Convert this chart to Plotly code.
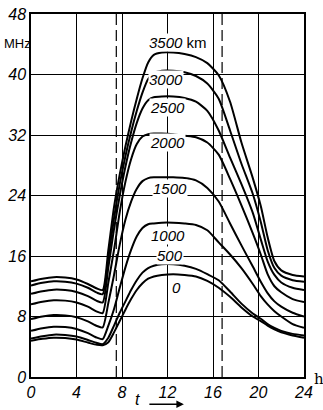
import plotly.graph_objects as go

# time of day, h
HOURS = [0, 1, 2, 3, 4, 5, 5.8, 6.3, 6.8, 7.3, 7.8, 8.3, 8.8, 9.3, 9.8, 10.3, 10.8,
         11.5, 12.5, 13.5, 14.5, 15.5, 16.5, 17.5, 18.5, 19.5, 20.2, 20.8, 21.4, 22, 23, 24]

# frequency in MHz for each distance
MUF_3500 = [12.65, 13.0, 13.2, 13.15, 12.9, 12.3, 11.7, 11.5, 16.8, 22.5, 26.8, 30.5, 33.8, 36.8, 39.5, 41.6, 42.6,
            42.9, 42.9, 42.7, 42.3, 41.5, 39.9, 36.4, 31.0, 26.3, 22.6, 18.5, 15.3, 14.1, 13.5, 13.3]
MUF_3000 = [12.1, 12.45, 12.65, 12.6, 12.35, 11.8, 11.15, 10.95, 15.8, 21.0, 25.5, 29.2, 32.4, 35.2, 37.6, 39.4, 40.2,
            40.5, 40.5, 40.3, 39.8, 38.8, 36.8, 32.6, 28.2, 24.2, 20.5, 16.8, 14.4, 13.4, 12.8, 12.6]
MUF_2500 = [11.0, 11.35, 11.55, 11.5, 11.25, 10.7, 10.05, 9.85, 14.5, 19.6, 24.0, 27.8, 31.0, 33.6, 35.5, 36.6, 37.0,
            37.1, 37.1, 36.9, 36.4, 35.2, 32.6, 29.0, 25.5, 21.7, 18.2, 15.3, 13.5, 12.5, 11.8, 11.5]
MUF_2000 = [9.6, 9.95, 10.15, 10.1, 9.85, 9.3, 8.65, 8.45, 12.5, 16.8, 21.8, 25.8, 28.8, 30.8, 31.8, 32.1, 32.2,
            32.2, 32.1, 31.9, 31.7, 31.0, 29.4, 26.2, 22.7, 19.0, 16.2, 13.6, 12.0, 11.2, 10.3, 9.9]
MUF_1500 = [7.65, 8.0, 8.2, 8.15, 7.9, 7.35, 6.75, 6.55, 9.8, 13.5, 17.5, 20.8, 23.2, 24.9, 25.9, 26.3, 26.4,
            26.4, 26.4, 26.3, 26.0, 25.0, 23.2, 20.3, 17.4, 14.6, 12.6, 11.1, 10.0, 9.3, 8.5, 8.0]
MUF_1000 = [6.1, 6.45, 6.65, 6.6, 6.35, 5.8, 5.2, 5.0, 6.8, 9.0, 11.8, 14.5, 16.8, 18.6, 19.7, 20.2, 20.3,
            20.4, 20.4, 20.3, 20.1, 19.4, 17.8, 16.2, 14.4, 12.3, 10.7, 9.6, 8.7, 8.0, 7.0, 6.5]
MUF_500 = [5.1, 5.4, 5.6, 5.55, 5.35, 4.9, 4.5, 4.35, 5.2, 6.8, 8.5, 10.0, 11.5, 12.8, 13.8, 14.4, 14.7,
           14.9, 14.9, 14.7, 14.3, 13.6, 12.8, 11.3, 9.7, 8.4, 7.7, 7.0, 6.5, 6.1, 5.7, 5.5]
MUF_0 = [4.8, 5.05, 5.2, 5.15, 4.95, 4.55, 4.25, 4.2, 4.6, 5.9, 7.4, 8.9, 10.3, 11.5, 12.4, 13.0, 13.3,
         13.5, 13.6, 13.5, 13.3, 12.7, 11.8, 10.6, 9.2, 8.0, 7.4, 6.8, 6.3, 5.9, 5.5, 5.2]

SERIES = [MUF_3500, MUF_3000, MUF_2500, MUF_2000, MUF_1500, MUF_1000, MUF_500, MUF_0]
DIST_LABELS = ["<i>3500</i> km", "<i>3000</i>", "<i>2500</i>", "<i>2000</i>",
               "<i>1500</i>", "<i>1000</i>", "<i>500</i>", "<i>0</i>"]
# where each distance label sits (h, MHz)
LABEL_T = [12.9, 11.9, 12.0, 12.0, 12.2, 12.0, 12.2, 12.8]
LABEL_V = [44.2, 39.4, 35.6, 31.0, 24.9, 18.7, 16.1, 11.9]

# sunrise / sunset markers
DAYLIGHT_EDGES = [7.5, 16.8]

X_TICKS = [0, 4, 8, 12, 16, 20, 24]
Y_TICKS = [0, 8, 16, 24, 32, 40, 48]

FONT = "Liberation Sans Narrow, Liberation Sans, Arial, sans-serif"

fig = go.Figure()

for t in DAYLIGHT_EDGES:
    fig.add_vline(x=t, line=dict(color="black", width=1.2, dash="11px,5px"), layer="below")

for ser, name in zip(SERIES, DIST_LABELS):
    fig.add_trace(go.Scatter(
        x=HOURS, y=ser, mode="lines", name=name,
        line=dict(color="black", width=2, shape="spline", smoothing=0.6),
        showlegend=False, hoverinfo="x+y"
    ))

for txt, t, v in zip(DIST_LABELS, LABEL_T, LABEL_V):
    fig.add_annotation(x=t, y=v, text=txt, showarrow=False, bgcolor="white",
                       borderpad=0, font=dict(family=FONT, size=15, color="black"))

# unit labels and time arrow
fig.add_annotation(xref="paper", yref="paper", x=-0.05, y=0.945, text="MHz", showarrow=False,
                   font=dict(family=FONT, size=13, color="black"), xanchor="center")
fig.add_annotation(xref="paper", yref="paper", x=1.03, y=-0.036, text="h", showarrow=False,
                   xanchor="left", font=dict(family="DejaVu Serif", size=15, color="black"))
fig.add_annotation(xref="paper", yref="paper", x=0.39, y=-0.092, text="t", showarrow=False,
                   font=dict(family=FONT, size=16, color="black", style="italic"))
fig.add_annotation(xref="paper", yref="paper", x=0.56, y=-0.075, ax=-36, ay=0, text="",
                   showarrow=True, arrowhead=2, arrowsize=1, arrowwidth=1.5, arrowcolor="black")

fig.update_layout(
    width=323, height=410,
    margin=dict(l=31, r=19, t=14, b=33, autoexpand=False),
    paper_bgcolor="white", plot_bgcolor="white",
    font=dict(family=FONT, color="black"),
)
fig.update_xaxes(range=[0, 24], tickvals=X_TICKS, ticktext=[str(v) for v in X_TICKS],
                 showgrid=True, gridcolor="black", gridwidth=1, zeroline=False, automargin=False,
                 showline=True, linecolor="black", linewidth=1.5, mirror=True, ticks="",
                 tickfont=dict(family=FONT, size=16, style="italic"))
fig.update_yaxes(range=[0, 48], tickvals=Y_TICKS, ticktext=[str(v) for v in Y_TICKS],
                 showgrid=True, gridcolor="black", gridwidth=1, zeroline=False, automargin=False,
                 showline=True, linecolor="black", linewidth=1.5, mirror=True, ticks="",
                 tickfont=dict(family=FONT, size=16, style="italic"))

# the page body has a default 8px margin; drop it so the figure sits at the corner
fig.write_html("out.html", config={"displayModeBar": False},
               post_script="document.body.style.margin='0';")
